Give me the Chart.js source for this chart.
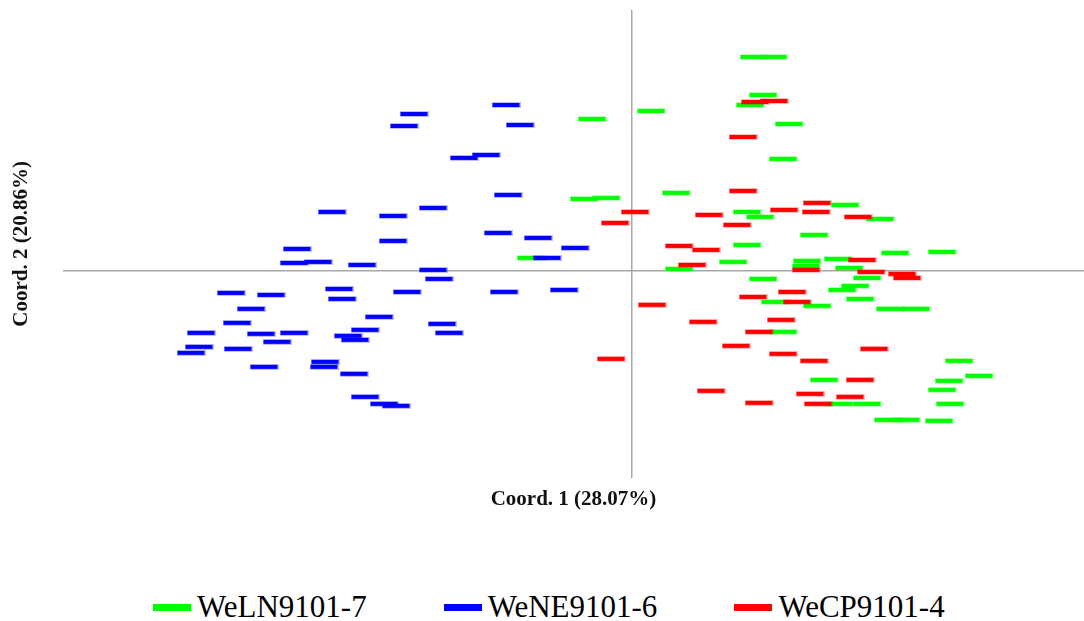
<!DOCTYPE html>
<html>
<head>
<meta charset="utf-8">
<title>PCoA Coord. 1 vs Coord. 2</title>
<script src="https://cdn.jsdelivr.net/npm/chart.js@4.4.0/dist/chart.umd.min.js"></script>
<style>
  body { margin: 0; background: #fff; }
  #wrap { position: relative; width: 1084px; height: 621px; }
  #legend {
    position: absolute; left: 153px; top: 589px;
    display: flex; align-items: center; gap: 77px;
    font-family: "Liberation Serif", "Times New Roman", serif;
    font-size: 31px; line-height: 36px; color: #000;
  }
  .item { display: flex; align-items: center; }
  .bar { width: 38px; height: 7px; margin-right: 6px; }
</style>
</head>
<body>
<div id="wrap">
  <canvas id="chart" width="1084" height="520"></canvas>
  <div id="legend"></div>
</div>
<script>
// group names, in legend order
const groups = ['WeLN9101-7', 'WeNE9101-6', 'WeCP9101-4'];

// WeLN9101-7 coordinates
const lnX = [1.22, 1.41, 1.31, 1.18, 1.57, 0.19, -0.40, 1.51, 0.44, -0.48, -0.26, 1.15, 1.28, 2.13, 2.48, 1.82,
  1.15, 1.01, 0.47, 1.75, 1.74, 2.63, 3.10, 2.06, 2.17, 2.35, 1.31, 2.23, 2.10, 2.28, 1.43, 1.85, 2.58, 2.84,
  1.51, 3.27, 3.47, 1.92, 3.17, 3.10, 2.07, 2.35, 3.18, 2.56, 2.74, 3.07, -1.01];
const lnY = [2.14, 2.14, 1.76, 1.66, 1.47, 1.60, 1.52, 1.12, 0.78, 0.72, 0.73, 0.59, 0.54, 0.66, 0.52, 0.36,
  0.26, 0.09, 0.02, 0.10, 0.05, 0.18, 0.19, 0.12, 0.03, -0.07, -0.08, -0.15, -0.19, -0.28, -0.31, -0.35, -0.38, -0.38,
  -0.61, -0.90, -1.05, -1.09, -1.10, -1.19, -1.33, -1.33, -1.33, -1.49, -1.49, -1.50, 0.13];

// WeNE9101-6 coordinates
const neX = [-2.18, -2.28, -1.68, -1.46, -1.26, -1.12, -3.00, -2.39, -1.99, -2.39, -3.35, -3.38, -3.14, -2.70,
  -1.99, -1.93, -4.01, -3.61, -2.93, -2.90, -2.25, -3.81, -2.53, -3.95, -4.31, -3.71, -3.38, -1.90, -1.83, -2.67,
  -2.84, -2.77, -3.55, -4.33, -4.41, -3.94, -3.68, -3.07, -3.08, -2.78, -2.67, -2.48, -2.36, -1.24, -1.34, -0.94,
  -0.57, -0.85, -1.28, -0.68];
const neY = [1.57, 1.45, 1.13, 1.16, 1.66, 1.46, 0.59, 0.55, 0.63, 0.30, 0.22, 0.08, 0.09, 0.06,
  0.01, -0.08, -0.22, -0.24, -0.18, -0.28, -0.21, -0.38, -0.46, -0.52, -0.62, -0.63, -0.62, -0.53, -0.62, -0.59,
  -0.65, -0.69, -0.71, -0.76, -0.82, -0.78, -0.96, -0.91, -0.96, -1.03, -1.26, -1.33, -1.35, 0.76, 0.38, 0.33,
  0.23, 0.13, -0.21, -0.19];

// WeCP9101-4 coordinates
const cpX = [0.03, -0.17, 1.42, 1.23, 1.11, 1.11, 0.77, 1.52, 1.85, 1.84, 1.05, 0.47, 0.74, 0.60, 1.74, 2.26,
  2.30, 2.39, 2.70, 2.75, 1.60, 1.21, 1.65, 0.20, 0.71, 1.49, 1.27, 1.04, 1.51, 1.82, 2.42, -0.21, 0.79, 1.78,
  1.27, 1.86, 2.28, 2.18];
const cpY = [0.59, 0.48, 1.70, 1.69, 1.34, 0.80, 0.56, 0.61, 0.68, 0.59, 0.46, 0.25, 0.21, 0.06, 0.01, 0.54,
  0.11, -0.01, -0.03, -0.07, -0.21, -0.26, -0.31, -0.34, -0.51, -0.49, -0.61, -0.75, -0.83, -0.90, -0.78, -0.88, -1.20, -1.23,
  -1.32, -1.33, -1.09, -1.26];

const colors = ['#00ff00', '#0000ff', '#ff0000'];

// short horizontal dash used as the marker
function dash(color) {
  const c = document.createElement('canvas');
  c.width = 29;
  c.height = 6;
  const g = c.getContext('2d');
  g.fillStyle = color;
  g.globalAlpha = 0.25;
  g.fillRect(0, 0, 29, 6);
  g.globalAlpha = 1;
  g.fillRect(1, 1, 27, 4);
  return c;
}

function pts(xs, ys) {
  return xs.map((x, i) => ({ x: x, y: ys[i] }));
}

const series = [pts(lnX, lnY), pts(neX, neY), pts(cpX, cpY)];

// red is drawn on top, green underneath (dataset 0 is painted last)
const datasets = [2, 1, 0].map((k) => ({
  label: groups[k],
  data: series[k],
  pointStyle: dash(colors[k]),
  backgroundColor: colors[k],
  borderWidth: 0
}));

const titleFont = { family: '"Liberation Serif", "Times New Roman", serif', size: 21, weight: 'bold' };
const zeroOnly = (axis) => { axis.ticks = [{ value: 0 }]; };
const zeroGrid = { color: '#a8a8a8', lineWidth: 1.5, drawTicks: false };

new Chart(document.getElementById('chart'), {
  type: 'scatter',
  data: { datasets: datasets },
  options: {
    responsive: false,
    animation: false,
    events: [],
    layout: { padding: { top: 10, left: 0, right: 0, bottom: 0 }, autoPadding: false },
    plugins: {
      legend: { display: false },
      tooltip: { enabled: false }
    },
    scales: {
      x: {
        type: 'linear',
        min: -5.69,
        max: 4.52,
        afterBuildTicks: zeroOnly,
        grid: zeroGrid,
        border: { display: false },
        ticks: { display: false },
        title: { display: true, text: 'Coord. 1 (28.07%)', color: '#111', font: titleFont, padding: { top: 9, bottom: 8 } }
      },
      y: {
        type: 'linear',
        min: -2.07,
        max: 2.61,
        afterBuildTicks: zeroOnly,
        grid: zeroGrid,
        border: { display: false },
        ticks: { display: false },
        title: { display: true, text: 'Coord. 2 (20.86%)', color: '#111', font: titleFont, padding: { top: 9, bottom: 28.8 } }
      }
    }
  }
});

// html legend
const legend = document.getElementById('legend');
groups.forEach((name, k) => {
  const item = document.createElement('div');
  item.className = 'item';
  const bar = document.createElement('span');
  bar.className = 'bar';
  bar.style.background = colors[k];
  const txt = document.createElement('span');
  txt.textContent = name;
  item.appendChild(bar);
  item.appendChild(txt);
  legend.appendChild(item);
});
</script>
</body>
</html>
